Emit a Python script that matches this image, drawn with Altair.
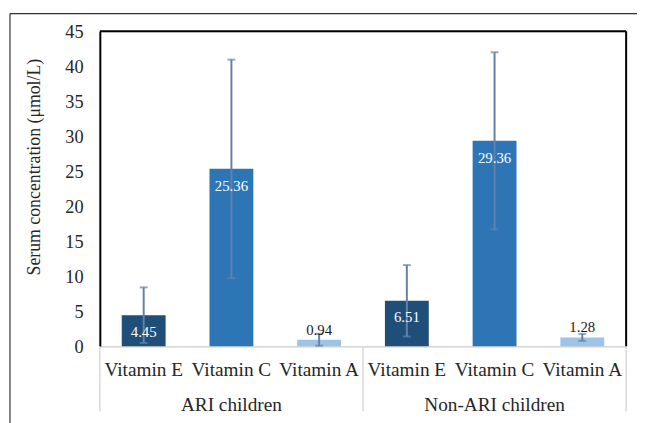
import altair as alt
import pandas as pd

groups = ["ARI children"] * 3 + ["Non-ARI children"] * 3
vitamins = ["Vitamin E", "Vitamin C", "Vitamin A"] * 2
means = [4.45, 25.36, 0.94, 6.51, 29.36, 1.28]
sds = [3.97, 15.6, 0.85, 5.1, 12.65, 0.5]
y_ticks = [0, 5, 10, 15, 20, 25, 30, 35, 40, 45]

vit_colors = {"Vitamin E": "#1F4E79", "Vitamin C": "#2E75B6", "Vitamin A": "#9DC3E6"}
FONT = "Liberation Serif"

df = pd.DataFrame({"group": groups, "vitamin": vitamins, "mean": means, "sd": sds})
df["key"] = df["group"] + "|" + df["vitamin"]
df["lo"] = df["mean"] - df["sd"]
df["hi"] = df["mean"] + df["sd"]
df["label"] = df["mean"].map(lambda v: f"{v:.2f}")
keys = list(df["key"])

W, H = 533, 319
YTITLE = "Serum concentration (μmol/L)"

xscale = alt.Scale(domain=keys, paddingInner=0, paddingOuter=0)
yscale = alt.Scale(domain=[0, 45], nice=False)


def X(**kw):
    return alt.X("key:N", scale=xscale, sort=keys, title=None, **kw)


def Y(field):
    return alt.Y(field, scale=yscale, title=YTITLE,
                 axis=alt.Axis(values=y_ticks, labelOverlap=False,
                               labelFont=FONT, titleFont=FONT))


base = alt.Chart(df)

bars = base.mark_bar(width={"band": 0.5}).encode(
    x=X(),
    y=Y("mean:Q"),
    color=alt.Color("vitamin:N",
                    scale=alt.Scale(domain=list(vit_colors.keys()), range=list(vit_colors.values())),
                    legend=None),
)

err_color = "#6381A8"
err_rule = base.mark_rule(color=err_color, strokeWidth=2).encode(
    x=X(), y=Y("lo:Q"), y2="hi:Q")
err_lo = base.mark_tick(color=err_color, thickness=2, size=8).encode(x=X(), y=Y("lo:Q"))
err_hi = base.mark_tick(color=err_color, thickness=2, size=8).encode(x=X(), y=Y("hi:Q"))

lab_in = base.transform_filter("datum.vitamin != 'Vitamin A'").mark_text(
    font=FONT, fontSize=15, color="white", baseline="middle", dy=17).encode(
    x=X(), y=Y("mean:Q"), text="label:N")
lab_out = base.transform_filter("datum.vitamin == 'Vitamin A'").mark_text(
    font=FONT, fontSize=15, color="#1a1a1a", baseline="middle", dy=-10).encode(
    x=X(), y=Y("mean:Q"), text="label:N")

group_lab = base.transform_filter("datum.vitamin == 'Vitamin C'").mark_text(
    font=FONT, fontSize=19.5, color="#262626", baseline="middle").encode(
    x=X(), y=alt.value(H + 59), text="group:N")

sep_start = base.transform_filter("datum.vitamin == 'Vitamin E'").mark_rule(
    color="#D9D9D9", strokeWidth=1.5).encode(
    x=X(bandPosition=0), y=alt.value(H), y2=alt.value(H + 66))
sep_end = base.transform_filter("datum.key == 'Non-ARI children|Vitamin A'").mark_rule(
    color="#D9D9D9", strokeWidth=1.5).encode(
    x=X(bandPosition=1), y=alt.value(H), y2=alt.value(H + 66))

# plot frame (top, right) and outer chart frame
one = pd.DataFrame({"a": [0]})
frame_top = alt.Chart(one).mark_rule(color="#000000", strokeWidth=2).encode(
    x=alt.value(0), x2=alt.value(W), y=alt.value(0))
frame_right = alt.Chart(one).mark_rule(color="#000000", strokeWidth=2).encode(
    x=alt.value(W), y=alt.value(0), y2=alt.value(H))
outer_left = alt.Chart(one).mark_rule(color="#333333", strokeWidth=1.2).encode(
    x=alt.value(-91), y=alt.value(-18), y2=alt.value(420))
outer_top = alt.Chart(one).mark_rule(color="#333333", strokeWidth=1.2).encode(
    x=alt.value(-91), x2=alt.value(560), y=alt.value(-18))

chart = alt.layer(
    bars, err_rule, err_lo, err_hi, lab_in, lab_out, group_lab,
    sep_start, sep_end, frame_top, frame_right, outer_left, outer_top
).properties(
    width=W, height=H,
    padding={"left": 93, "top": 21, "right": 11, "bottom": 75},
    autosize="none",
).configure_view(
    stroke=None
).configure(
    background="white", font=FONT
).configure_axis(
    ticks=False, grid=False, labelFont=FONT, labelColor="#262626",
    titleFont=FONT, titleColor="#262626", titleFontWeight="normal",
).configure_axisX(
    labelExpr="split(datum.label, '|')[1]", labelAngle=0, labelPadding=15,
    labelFontSize=19.5, domainColor="#D9D9D9", domainWidth=1.5,
    labelFont=FONT,
).configure_axisY(
    labelPadding=17, labelFontSize=18.5, labelOverlap=False,
    labelFont=FONT, titleFont=FONT,
    domainColor="#000000", domainWidth=2, titleFontSize=18,
    titleAngle=270, titleBaseline="middle", titleAlign="center",
    titleX=-66, titleY=137,
)

chart.save("out.html", embed_options={"renderer": "svg", "actions": False})
